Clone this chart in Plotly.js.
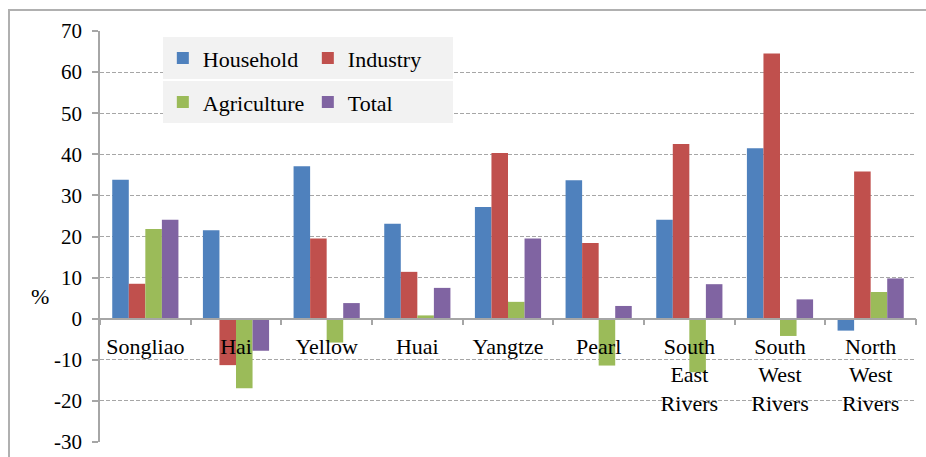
<!DOCTYPE html>
<html>
<head>
<meta charset="utf-8">
<script src="https://cdn.plot.ly/plotly-3.0.1.min.js"></script>
<style>
  body { margin: 0; background: #ffffff; font-family: 'Liberation Serif'; }
  #frame { position: absolute; left: 8px; top: 9px; width: 930px; height: 460px;
           border-top: 2px solid #b0b0b0; border-left: 2px solid #b0b0b0; }
  #chart { position: absolute; left: 0; top: 0; width: 926px; height: 457px; }
</style>
</head>
<body>
<div id="frame"></div>
<div id="chart"></div>
<script>
const categories = ["Songliao", "Hai", "Yellow", "Huai", "Yangtze", "Pearl",
  "South<br>East<br>Rivers", "South<br>West<br>Rivers", "North<br>West<br>Rivers"];
const household   = [33.8, 21.5, 37.1, 23.1, 27.2, 33.7, 24.1, 41.5, -2.9];
const industry    = [8.5, -11.3, 19.5, 11.4, 40.3, 18.4, 42.5, 64.5, 35.8];
const agriculture = [21.8, -16.9, -5.8, 0.8, 4.1, -11.4, -13.0, -4.2, 6.5];
const total       = [24.1, -7.8, 3.8, 7.5, 19.5, 3.1, 8.4, 4.7, 9.8];
const yTicks = [-30, -20, -10, 0, 10, 20, 30, 40, 50, 60, 70];
const yTickText = ["-30", "-20", "-10", "0", "10", "20", "30", "40", "50", "60", "70"];

const SERIF = "Liberation Serif";
const GRAY = "#a6a6a6";

function bar(name, y, color, legend) {
  return { type: "bar", name: name, x: categories, y: y, legend: legend,
           marker: { color: color, line: { width: 0 } } };
}

const data = [
  bar("Household", household, "#4f81bd", "legend"),
  bar("Industry", industry, "#c0504d", "legend"),
  bar("Agriculture", agriculture, "#9bbb59", "legend2"),
  bar("Total", total, "#8064a2", "legend2")
];

function legendCfg(y) {
  return {
    orientation: "h", bgcolor: "#f2f2f2", borderwidth: 0,
    font: { family: SERIF, size: 22, color: "#000000" },
    entrywidth: 100, entrywidthmode: "pixels",
    xanchor: "left", yanchor: "top", x: 0.077, y: y, traceorder: "normal"
  };
}

const layout = {
  width: 926, height: 457,
  margin: { l: 100, r: 10, t: 31, b: 15 },
  paper_bgcolor: "rgba(0,0,0,0)", plot_bgcolor: "rgba(0,0,0,0)",
  barmode: "group", bargap: 0.27, bargroupgap: 0,
  font: { family: SERIF, size: 22, color: "#000000" },
  showlegend: true,
  legend: legendCfg(0.985),
  legend2: legendCfg(0.878),
  xaxis: {
    type: "category", range: [-0.5, 8.5],
    anchor: "free", position: 0.3,
    showline: true, linecolor: GRAY, linewidth: 1.5,
    ticks: "outside", tickson: "boundaries", ticklen: 6, tickcolor: GRAY, tickwidth: 1.5,
    showgrid: false, zeroline: false,
    tickfont: { family: SERIF, size: 22, color: "#000000" },
    ticklabelstandoff: 8
  },
  yaxis: {
    range: [-30, 70], tickmode: "array", tickvals: yTicks, ticktext: yTickText,
    showline: true, linecolor: GRAY, linewidth: 1.5,
    ticks: "outside", ticklen: 6, tickcolor: GRAY, tickwidth: 1.5,
    showgrid: true, gridcolor: GRAY, griddash: "4px,2px", gridwidth: 1,
    zeroline: false,
    tickfont: { family: SERIF, size: 21, color: "#000000" },
    ticklabelstandoff: 6
  },
  annotations: [{
    text: "%", xref: "paper", yref: "paper", x: -0.073, y: 0.353,
    xanchor: "center", yanchor: "middle", showarrow: false,
    font: { family: SERIF, size: 22, color: "#000000" }
  }]
};

Plotly.newPlot("chart", data, layout, { displayModeBar: false });
</script>
</body>
</html>
